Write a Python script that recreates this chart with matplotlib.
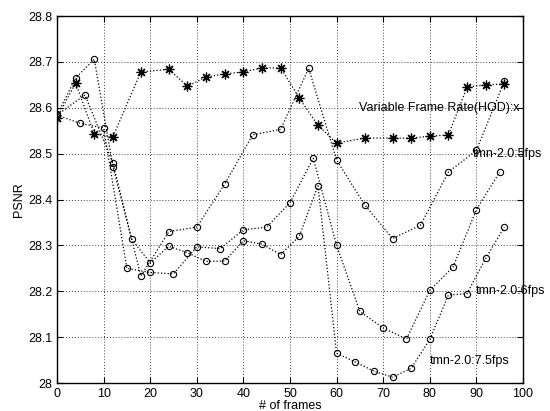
import matplotlib
matplotlib.use("Agg")
import matplotlib.pyplot as plt
from matplotlib.ticker import FormatStrFormatter

plt.rcParams['font.family'] = ['Liberation Sans', 'DejaVu Sans']
plt.rcParams['font.size'] = 9

# variable frame rate (HOD)
vfr_x = [0, 4, 8, 12, 18, 24, 28, 32, 36, 40, 44, 48, 52, 56, 60, 66, 72, 76, 80, 84, 88, 92, 96]
vfr_y = [28.578, 28.654, 28.543, 28.537, 28.678, 28.684, 28.647, 28.667, 28.674, 28.678, 28.687,
         28.687, 28.621, 28.562, 28.523, 28.534, 28.534, 28.534, 28.538, 28.541, 28.645, 28.650, 28.652]

# tmn-2.0 at 5 fps
fps5_x = [0, 6, 12, 18, 24, 30, 36, 42, 48, 54, 60, 66, 72, 78, 84, 90, 96]
fps5_y = [28.584, 28.628, 28.480, 28.233, 28.330, 28.340, 28.434, 28.541, 28.553, 28.686,
          28.486, 28.389, 28.315, 28.344, 28.460, 28.507, 28.658]

# tmn-2.0 at 6 fps
fps6_x = [0, 5, 10, 15, 20, 25, 30, 35, 40, 45, 50, 55, 60, 65, 70, 75, 80, 85, 90, 95]
fps6_y = [28.584, 28.566, 28.556, 28.250, 28.241, 28.238, 28.297, 28.293, 28.334, 28.340,
          28.393, 28.490, 28.300, 28.156, 28.120, 28.096, 28.202, 28.253, 28.378, 28.460]

# tmn-2.0 at 7.5 fps
fps75_x = [0, 4, 8, 12, 16, 20, 24, 28, 32, 36, 40, 44, 48, 52, 56, 60, 64, 68, 72, 76, 80, 84, 88, 92, 96]
fps75_y = [28.584, 28.665, 28.706, 28.472, 28.314, 28.262, 28.298, 28.284, 28.265, 28.266,
           28.310, 28.303, 28.280, 28.320, 28.430, 28.065, 28.046, 28.026, 28.013, 28.032,
           28.095, 28.192, 28.195, 28.272, 28.340]

xticks = list(range(0, 101, 10))
yticks = [28.0, 28.1, 28.2, 28.3, 28.4, 28.5, 28.6, 28.7, 28.8]

fig = plt.figure(figsize=(5.5, 4.11), dpi=100)
ax = fig.add_axes([0.1036, 0.068, 0.8473, 0.893])

circ = dict(linestyle=':', color='black', linewidth=0.9, marker='o', markersize=4.5,
            markerfacecolor='none', markeredgecolor='black', markeredgewidth=0.8)
ax.plot(fps5_x, fps5_y, **circ)
ax.plot(fps6_x, fps6_y, **circ)
ax.plot(fps75_x, fps75_y, **circ)
ax.plot(vfr_x, vfr_y, linestyle=':', color='black', linewidth=0.9, marker=(8, 2, 0),
        markersize=7, markeredgewidth=0.9, markeredgecolor='black')

# in-plot labels
ax.text(64.8, 28.6, 'Variable Frame Rate(HOD):x', ha='left', va='center')
ax.text(89.2, 28.5, 'tmn-2.0:5fps', ha='left', va='center', clip_on=False)
ax.text(89.8, 28.2, 'tmn-2.0:6fps', ha='left', va='center', clip_on=False)
ax.text(79.9, 28.048, 'tmn-2.0:7.5fps', ha='left', va='center')

ax.set_xlim(0, 100)
ax.set_ylim(28, 28.8)
ax.set_xticks(xticks)
ax.set_yticks(yticks)
ax.yaxis.set_major_formatter(FormatStrFormatter('%g'))
ax.grid(True, linestyle=(0, (1, 2.5)), color='black', linewidth=0.6)
ax.tick_params(direction='in', top=True, right=True, length=4, width=0.8, labelsize=9)
for s in ax.spines.values():
    s.set_linewidth(1.0)

ax.set_xlabel('# of frames', labelpad=0)
ax.set_ylabel('PSNR', labelpad=2)

fig.savefig('out.png', dpi=100)
